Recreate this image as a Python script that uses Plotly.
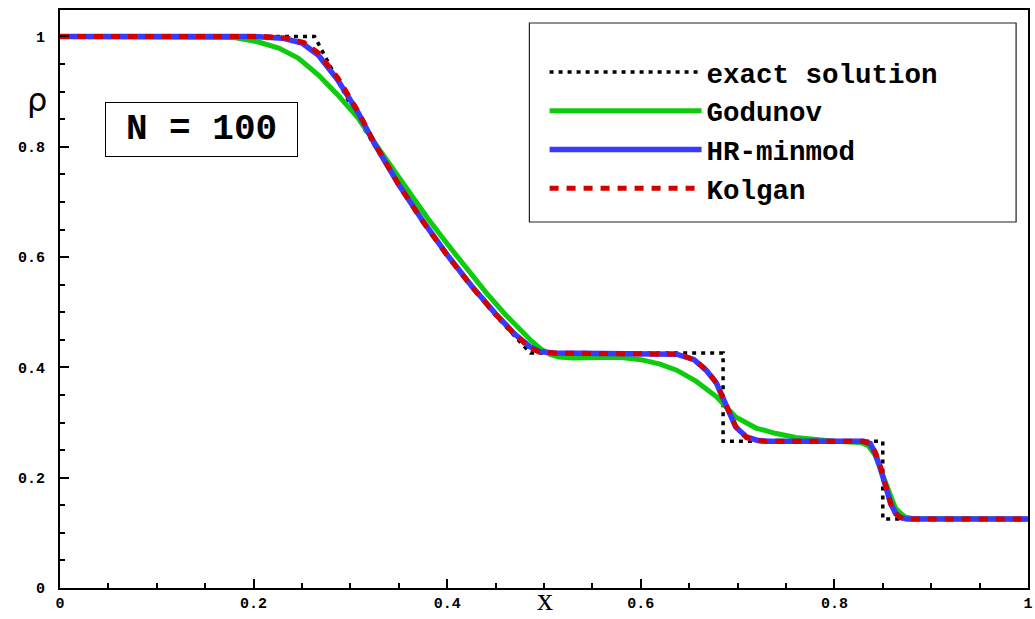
import plotly.graph_objects as go

# ---------------- data ----------------
x_exact = [0.0, 0.263, 0.275, 0.2875, 0.30, 0.3125, 0.325, 0.35, 0.375, 0.40,
           0.425, 0.45, 0.47, 0.486, 0.685, 0.685, 0.850, 0.850, 1.0]
rho_exact = [1.0, 1.0, 0.960, 0.918, 0.877, 0.838, 0.801, 0.730, 0.664, 0.603,
             0.546, 0.494, 0.456, 0.426, 0.426, 0.266, 0.266, 0.125, 0.125]

x_godunov = [0.0, 0.15, 0.18, 0.205, 0.226, 0.246, 0.267, 0.287, 0.308, 0.33,
             0.362, 0.38, 0.40, 0.42, 0.44, 0.46, 0.475, 0.487, 0.497, 0.506,
             0.515, 0.53, 0.56, 0.58, 0.60, 0.62, 0.637, 0.657, 0.678, 0.688,
             0.698, 0.719, 0.74, 0.76, 0.78, 0.80, 0.827, 0.835, 0.842, 0.85,
             0.858, 0.863, 0.868, 0.873, 0.88, 1.0]
rho_godunov = [1.0, 1.0, 0.998, 0.990, 0.979, 0.961, 0.930, 0.894, 0.852, 0.795,
               0.713, 0.670, 0.624, 0.580, 0.536, 0.496, 0.468, 0.448, 0.433, 0.424,
               0.419, 0.417, 0.418, 0.418, 0.414, 0.406, 0.395, 0.375, 0.347, 0.328,
               0.310, 0.290, 0.280, 0.273, 0.269, 0.266, 0.264, 0.258, 0.241, 0.205,
               0.165, 0.145, 0.136, 0.129, 0.126, 0.125]

x_hr = [0.0, 0.20, 0.23, 0.25, 0.267, 0.287, 0.308, 0.325, 0.35, 0.375,
        0.40, 0.425, 0.45, 0.47, 0.485, 0.495, 0.51, 0.60, 0.637, 0.655,
        0.668, 0.678, 0.688, 0.698, 0.709, 0.72, 0.73, 0.83, 0.837, 0.842,
        0.847, 0.853, 0.858, 0.863, 0.868, 0.875, 1.0]
rho_hr = [1.0, 1.0, 0.997, 0.988, 0.966, 0.921, 0.862, 0.805, 0.731, 0.665,
          0.604, 0.548, 0.497, 0.460, 0.438, 0.429, 0.426, 0.426, 0.424, 0.414,
          0.394, 0.372, 0.330, 0.292, 0.274, 0.268, 0.266, 0.266, 0.262, 0.245,
          0.220, 0.184, 0.154, 0.136, 0.128, 0.125, 0.125]

x_kolgan = [0.0, 0.21, 0.235, 0.252, 0.267, 0.287, 0.308, 0.325, 0.35, 0.375,
            0.40, 0.425, 0.45, 0.47, 0.485, 0.495, 0.51, 0.60, 0.64, 0.656,
            0.668, 0.678, 0.688, 0.698, 0.709, 0.72, 0.73, 0.83, 0.838, 0.843,
            0.848, 0.853, 0.858, 0.863, 0.868, 0.875, 1.0]
rho_kolgan = [1.0, 1.0, 0.997, 0.989, 0.970, 0.925, 0.864, 0.806, 0.731, 0.664,
              0.603, 0.547, 0.496, 0.459, 0.436, 0.428, 0.426, 0.426, 0.424, 0.413,
              0.395, 0.372, 0.331, 0.293, 0.273, 0.267, 0.266, 0.266, 0.261, 0.243,
              0.218, 0.183, 0.153, 0.135, 0.128, 0.125, 0.125]

series_names = ["exact solution", "Godunov", "HR-minmod", "Kolgan"]
x_ticks = [0, 0.2, 0.4, 0.6, 0.8, 1]
y_ticks = [0, 0.2, 0.4, 0.6, 0.8, 1]
n_label = "N = 100"

MONO = "Liberation Mono, Courier New, monospace"

fig = go.Figure()
fig.add_trace(go.Scatter(x=x_exact, y=rho_exact, mode="lines", name=series_names[0],
                         line=dict(color="black", width=3.5, dash="4px,5px")))
fig.add_trace(go.Scatter(x=x_godunov, y=rho_godunov, mode="lines", name=series_names[1],
                         line=dict(color="#0ccc0c", width=5)))
fig.add_trace(go.Scatter(x=x_hr, y=rho_hr, mode="lines", name=series_names[2],
                         line=dict(color="#3a3aff", width=5.5)))
fig.add_trace(go.Scatter(x=x_kolgan, y=rho_kolgan, mode="lines", name=series_names[3],
                         line=dict(color="#d40000", width=5, dash="9px,8px")))

axis_common = dict(
    showgrid=False, zeroline=False, showline=True, mirror=True,
    linecolor="black", linewidth=2,
    ticks="inside", ticklen=9, tickwidth=2, tickcolor="black",
    tickfont=dict(family=MONO, size=15, color="black", weight="bold"),
    minor=dict(ticks="inside", ticklen=5, tickwidth=1.5, tickcolor="black", dtick=0.05),
    ticklabeloverflow="allow",
)

fig.update_xaxes(range=[0, 1], tickvals=x_ticks, ticktext=[f"{v:g}" for v in x_ticks],
                 **axis_common)
fig.update_yaxes(range=[0, 1.048], tickvals=y_ticks, ticktext=[f"{v:g}" for v in y_ticks],
                 ticklabelstandoff=10, **axis_common)

fig.update_layout(
    width=1035, height=619,
    margin=dict(l=60, r=2, t=10, b=31),
    paper_bgcolor="white", plot_bgcolor="white",
    showlegend=True,
    legend=dict(
        x=0.5006, y=0.935, xanchor="left", yanchor="top",
        bgcolor="rgba(0,0,0,0)", borderwidth=0,
        font=dict(family=MONO, size=27.5, color="black", weight="bold"),
        itemwidth=152, tracegroupgap=0,
    ),
    shapes=[dict(type="rect", xref="paper", yref="paper",
                 x0=0.4849, x1=0.9877, y0=0.6332, y1=0.9775,
                 line=dict(color="#222222", width=1.2), fillcolor="rgba(0,0,0,0)",
                 layer="below")],
    annotations=[
        dict(text=n_label, xref="paper", yref="paper", x=0.1462, y=0.7933,
             xanchor="center", yanchor="middle", showarrow=False,
             font=dict(family=MONO, size=36, color="black", weight="bold"),
             bordercolor="black", borderwidth=1, borderpad=3,
             width=185, height=47, bgcolor="white"),
        dict(text="ρ", xref="paper", yref="paper", x=-0.024, y=0.845,
             xanchor="center", yanchor="middle", showarrow=False,
             font=dict(family="DejaVu Sans", size=32, color="black")),
        dict(text="x", xref="paper", yref="paper", x=0.501, y=-0.0536,
             xanchor="center", yanchor="bottom", showarrow=False,
             font=dict(family="Liberation Serif", size=32, color="black")),
    ],
)

fig.write_html("out.html",
               config={"displayModeBar": False},
               post_script="document.body.style.margin='0';document.body.style.overflow='hidden';")
